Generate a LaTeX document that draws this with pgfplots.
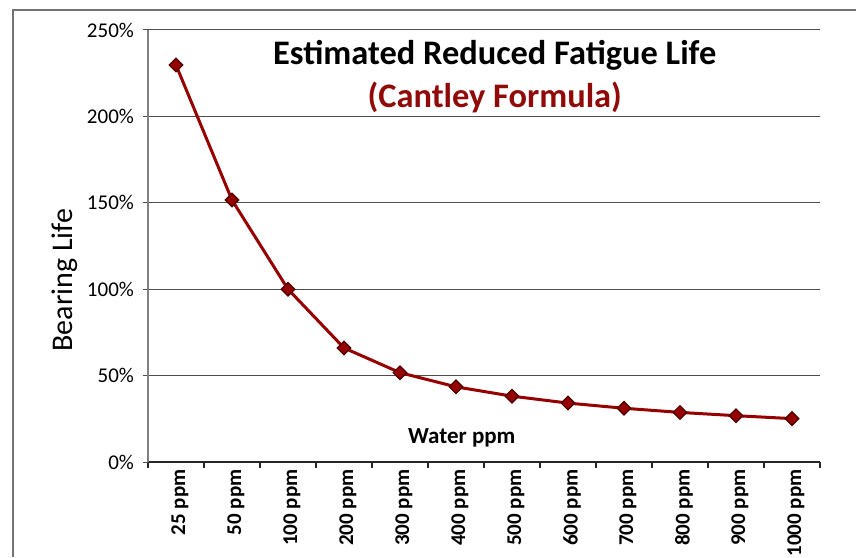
\documentclass[border=0pt]{standalone}
\usepackage{fontspec}
\setmainfont{Carlito}
\usepackage{pgfplots}
\pgfplotsset{compat=1.18}
\definecolor{darkred}{RGB}{150,0,0}
\definecolor{titlered}{RGB}{145,10,10}
\begin{document}
\begin{tikzpicture}
\useasboundingbox (0pt,0pt) rectangle (428pt,278.5pt);
\draw[black!55, line width=0.8pt] (6.5pt,0pt) -- (6.5pt,273.5pt) -- (428pt,273.5pt);
\begin{axis}[
  at={(74pt,47.5pt)}, anchor=south west,
  scale only axis, width=336pt, height=216pt,
  xmin=-0.5, xmax=11.5, ymin=0, ymax=250,
  axis x line*=bottom, axis y line*=left,
  x axis line style={black!85, -, line width=0.6pt},
  y axis line style={black!50, -, line width=0.6pt},
  xtick={0,...,11},
  xticklabels={25 ppm,50 ppm,100 ppm,200 ppm,300 ppm,400 ppm,500 ppm,600 ppm,700 ppm,800 ppm,900 ppm,1000 ppm},
  minor xtick={-0.5,0.5,...,11.5},
  every major x tick/.append style={draw=none},
  every minor x tick/.append style={black!85, line width=0.6pt},
  minor tick length=3pt,
  major tick length=2.5pt,
  tick align=outside,
  xticklabel style={rotate=90, anchor=east, font=\bfseries\fontsize{10.5}{12}\selectfont, inner sep=1pt, yshift=-2pt},
  ytick={0,50,...,250},
  yticklabel={\pgfmathprintnumber{\tick}\%},
  yticklabel style={font=\fontsize{10.5}{12}\selectfont, xshift=-1pt},
  /pgf/number format/assume math mode=true,
  every major y tick/.append style={black!70, line width=0.5pt},
  ymajorgrids,
  major grid style={black!70, line width=0.5pt},
  ylabel={Bearing Life},
  ylabel style={at={(axis description cs:-0.1235,0.421)}, anchor=center, font=\fontsize{15}{17}\selectfont},
  xlabel={Water ppm},
  xlabel style={at={(axis description cs:0.467,0.056)}, anchor=center, font=\bfseries\fontsize{11.5}{13}\selectfont},
  clip=false,
]
\addplot[darkred, line width=1.5pt, mark=square*, mark size=2.4pt,
  mark options={rotate=45, fill=darkred, draw=black!50!darkred, line width=0.6pt}]
  coordinates {(0,229.7)(1,151.6)(2,100)(3,66.0)(4,51.7)(5,43.5)(6,38.1)(7,34.1)(8,31.1)(9,28.7)(10,26.8)(11,25.1)};
\node at (axis description cs:0.516,0.942) {\bfseries\fontsize{17.2}{20}\selectfont Estimated Reduced Fatigue Life};
\node[text=titlered] at (axis description cs:0.516,0.845) {\bfseries\fontsize{17.2}{20}\selectfont (Cantley Formula)};
\end{axis}
\end{tikzpicture}
\end{document}
